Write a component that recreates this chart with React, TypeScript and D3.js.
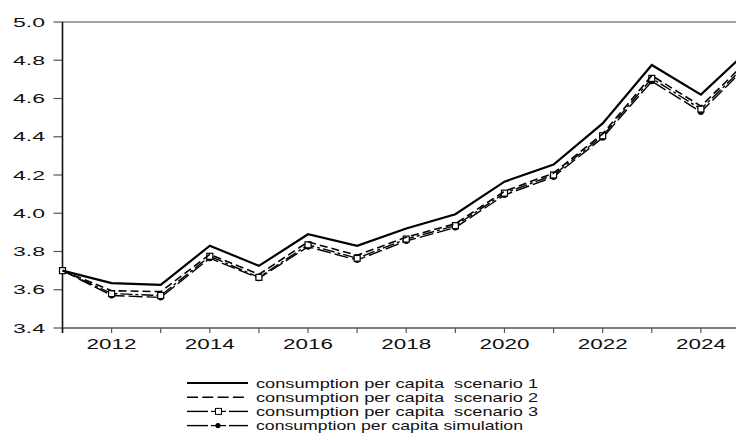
import React, { useEffect, useRef } from 'react'
import * as d3 from 'd3'

// values
const years = [2011, 2012, 2013, 2014, 2015, 2016, 2017, 2018, 2019, 2020, 2021, 2022, 2023, 2024, 2025]
const scenario1 = [3.70, 3.635, 3.625, 3.83, 3.725, 3.89, 3.83, 3.92, 3.995, 4.165, 4.255, 4.47, 4.775, 4.62, 4.86]
const scenario2 = [3.70, 3.595, 3.59, 3.785, 3.68, 3.85, 3.78, 3.875, 3.945, 4.115, 4.21, 4.415, 4.72, 4.56, 4.81]
const scenario3 = [3.70, 3.58, 3.57, 3.775, 3.665, 3.835, 3.765, 3.865, 3.935, 4.105, 4.2, 4.405, 4.705, 4.545, 4.795]
const simulation = [3.70, 3.57, 3.56, 3.765, 3.66, 3.825, 3.755, 3.855, 3.925, 4.095, 4.19, 4.395, 4.69, 4.53, 4.785]
const yTicks = [3.4, 3.6, 3.8, 4.0, 4.2, 4.4, 4.6, 4.8, 5.0]
const xLabelYears = [2012, 2014, 2016, 2018, 2020, 2022, 2024]
const legendLabels = [
  'consumption per capita  scenario 1',
  'consumption per capita  scenario 2',
  'consumption per capita  scenario 3',
  'consumption per capita simulation',
]

const FONT = "'Liberation Sans', Arial, sans-serif"

export default function App() {
  const ref = useRef<SVGSVGElement | null>(null)

  useEffect(() => {
    const svg = d3.select(ref.current)
    svg.selectAll('*').remove()
    const width = 736, height = 441
    const plot = { left: 62.5, top: 22, bottom: 328, right: 750 }

    const x = d3.scaleLinear([2011, 2025], [plot.left, plot.right])
    const y = d3.scaleLinear([3.4, 5.0], [plot.bottom, plot.top])

    svg.attr('width', width).attr('height', height)

    // frame
    svg.append('line').attr('x1', plot.left).attr('x2', width).attr('y1', plot.top).attr('y2', plot.top)
      .attr('stroke', '#444').attr('stroke-width', 1.2)
    svg.append('line').attr('x1', plot.left).attr('x2', width).attr('y1', plot.bottom).attr('y2', plot.bottom)
      .attr('stroke', '#555').attr('stroke-width', 1.4)

    // x ticks and labels
    const xg = svg.append('g')
    xg.selectAll('line').data(years).join('line')
      .attr('x1', d => x(d)).attr('x2', d => x(d))
      .attr('y1', plot.bottom).attr('y2', plot.bottom + 5)
      .attr('stroke', '#555').attr('stroke-width', 1.2)
    xg.selectAll('text').data(xLabelYears).join('text')
      .attr('x', d => x(d) - 25).attr('y', plot.bottom + 21)
      .attr('textLength', 50).attr('lengthAdjust', 'spacingAndGlyphs')
      .attr('font-family', FONT).attr('font-size', 14).attr('fill', '#111')
      .text(d => String(d))

    // y ticks and labels
    const yg = svg.append('g')
    yg.selectAll('line').data(yTicks).join('line')
      .attr('x1', plot.left - 9).attr('x2', plot.left)
      .attr('y1', d => y(d)).attr('y2', d => y(d))
      .attr('stroke', '#555').attr('stroke-width', 1.2)
    yg.selectAll('text').data(yTicks).join('text')
      .attr('x', 13).attr('y', d => y(d) + 4.5)
      .attr('textLength', 32).attr('lengthAdjust', 'spacingAndGlyphs')
      .attr('font-family', FONT).attr('font-size', 13).attr('fill', '#111')
      .text(d => d.toFixed(1))

    svg.append('line').attr('x1', plot.left).attr('x2', plot.left).attr('y1', plot.top).attr('y2', plot.bottom + 5)
      .attr('stroke', '#111').attr('stroke-width', 1.6)

    const series = [
      { values: scenario1, dash: null, w: 2.2, marker: 'none' },
      { values: scenario2, dash: '8,4', w: 1.6, marker: 'none' },
      { values: scenario3, dash: '12,3,3,3', w: 1.4, marker: 'square' },
      { values: simulation, dash: '14,4', w: 1.4, marker: 'dot' },
    ]
    const line = d3.line<number>().x((d, i) => x(years[i])).y(d => y(d))

    const lines = svg.append('g')
    series.slice().reverse().forEach(s => {
      lines.append('path').datum(s.values)
        .attr('d', line).attr('fill', 'none').attr('stroke', '#000')
        .attr('stroke-width', s.w).attr('stroke-dasharray', s.dash)
        .attr('stroke-linejoin', 'miter')
      if (s.marker === 'square') {
        lines.append('g').selectAll('rect').data(s.values).join('rect')
          .attr('x', (d, i) => x(years[i]) - 3).attr('y', d => y(d) - 3)
          .attr('width', 6).attr('height', 6)
          .attr('fill', '#fff').attr('stroke', '#000').attr('stroke-width', 1.2)
      }
      if (s.marker === 'dot') {
        lines.append('g').selectAll('circle').data(s.values).join('circle')
          .attr('cx', (d, i) => x(years[i])).attr('cy', d => y(d))
          .attr('r', 3).attr('fill', '#000')
      }
    })

    // legend
    const lg = svg.append('g')
    const rowY = (i: number) => 383 + i * 14.2
    series.forEach((s, i) => {
      const ly = rowY(i)
      if (s.marker === 'none') {
        lg.append('line').attr('x1', 187).attr('x2', 248).attr('y1', ly).attr('y2', ly)
          .attr('stroke', '#000').attr('stroke-width', s.w)
          .attr('stroke-dasharray', s.dash ? '11,4.3' : null)
      } else {
        lg.append('line').attr('x1', 187).attr('x2', 208).attr('y1', ly).attr('y2', ly)
          .attr('stroke', '#000').attr('stroke-width', 1.4)
        lg.append('line').attr('x1', 229).attr('x2', 248).attr('y1', ly).attr('y2', ly)
          .attr('stroke', '#000').attr('stroke-width', 1.4)
        lg.append('line').attr('x1', 211).attr('x2', 226).attr('y1', ly).attr('y2', ly)
          .attr('stroke', '#000').attr('stroke-width', 1.2)
        if (s.marker === 'square') {
          lg.append('rect').attr('x', 215.5).attr('y', ly - 3).attr('width', 6).attr('height', 6)
            .attr('fill', '#fff').attr('stroke', '#000').attr('stroke-width', 1)
        } else {
          lg.append('circle').attr('cx', 218).attr('cy', ly).attr('r', 2.6).attr('fill', '#000')
        }
      }
      const natural = legendLabels[i] === legendLabels[3] ? 267 : 282
      lg.append('text')
        .attr('x', 256).attr('y', ly + 4.5)
        .attr('textLength', natural).attr('lengthAdjust', 'spacingAndGlyphs')
        .attr('font-family', FONT).attr('font-size', 12.2).attr('fill', '#111')
        .style('white-space', 'pre')
        .text(legendLabels[i])
    })
  }, [])

  return (
    <svg ref={ref} style={{ position: 'absolute', left: 0, top: 0, background: '#fff' }} />
  )
}
